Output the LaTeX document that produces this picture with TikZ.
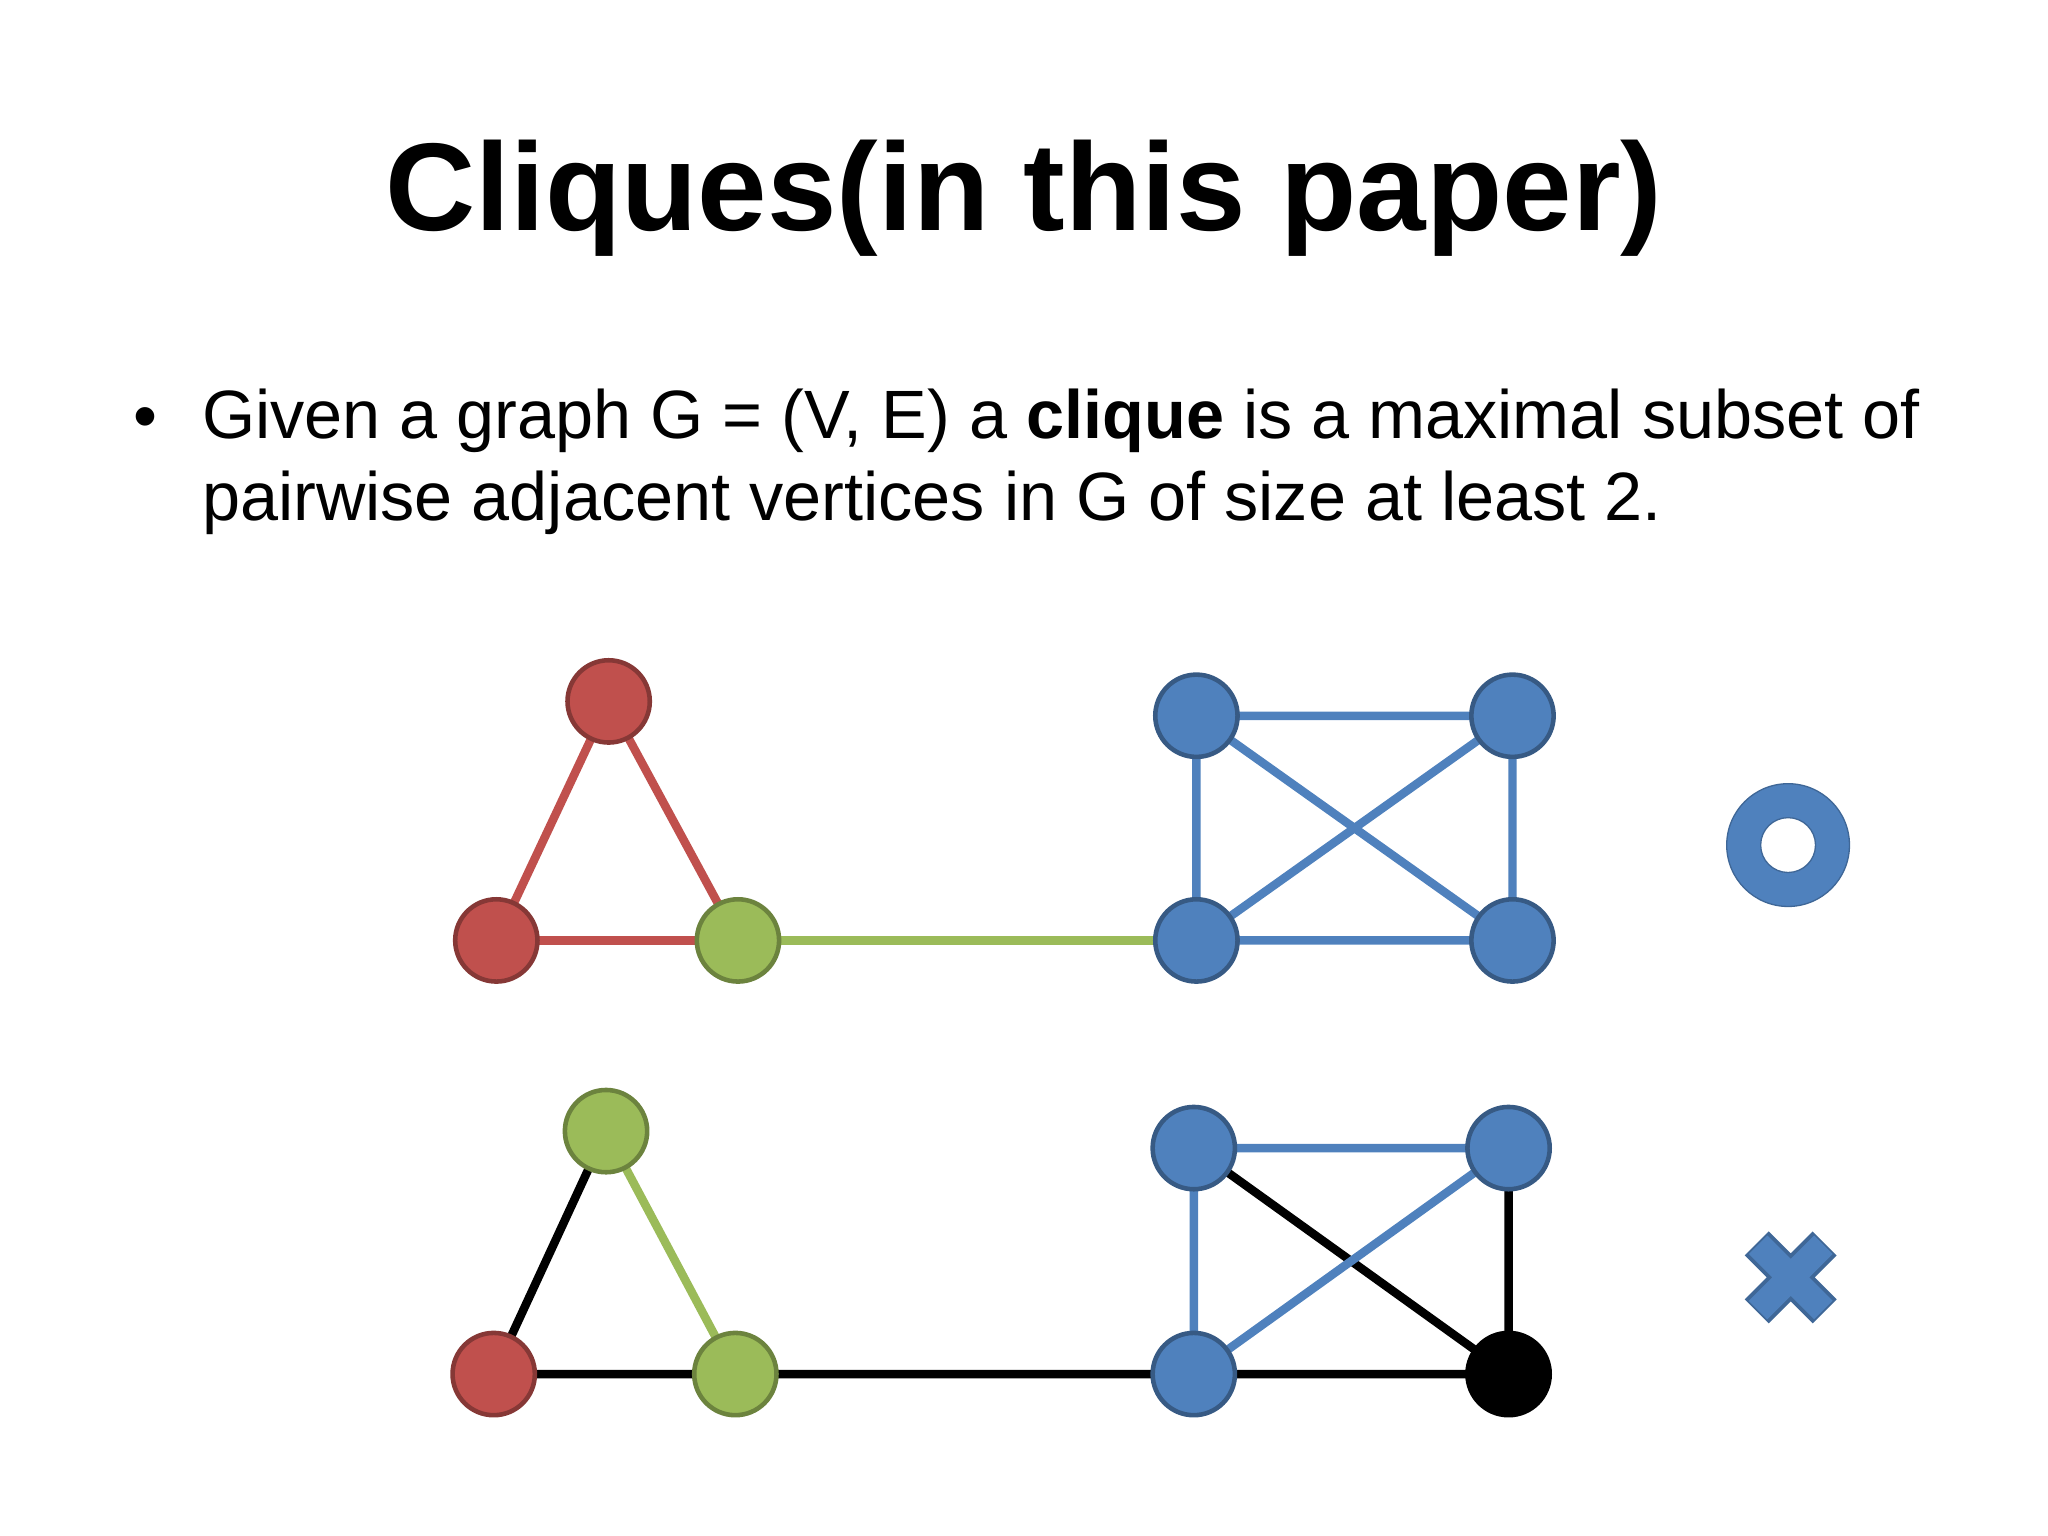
\documentclass[tikz,border=0pt]{standalone}
\usepackage{fontspec}
\setmainfont{Liberation Sans}
\usetikzlibrary{calc,backgrounds}
\definecolor{cred}{HTML}{C0504D}
\definecolor{cgreen}{HTML}{9BBB59}
\definecolor{cblue}{HTML}{4F81BD}
\begin{document}
\begin{tikzpicture}[x=0.1mm,y=-0.1mm,
  vtx/.style={circle,minimum size=6.3mm,inner sep=0pt,line width=0.35mm},
  rv/.style={vtx,fill=cred,draw=cred!70!black},
  gv/.style={vtx,fill=cgreen,draw=cgreen!70!black},
  bv/.style={vtx,fill=cblue,draw=cblue!70!black},
  kv/.style={vtx,fill=black,draw=black},
  ed/.style={line width=0.65mm}]
\useasboundingbox (0,0) rectangle (1568,1176);
\node[font=\fontsize{27.2}{32}\selectfont\bfseries] (title) at (784,152) {Cliques(in this paper)};
\node[anchor=west,font=\fontsize{14.9}{18}\selectfont] (bul) at (90,324) {•};
\node[anchor=north west,align=left,inner sep=0pt,font=\fontsize{14.9}{17.9}\selectfont] (txt) at (154,297) {Given a graph G = (V, E) a \textbf{clique} is a maximal subset of\\pairwise adjacent vertices in G of size at least 2.};
% top graph
\node[rv] (a) at (466,537) {};
\node[rv] (b) at (380,720) {};
\node[gv] (c) at (565,720) {};
\node[bv] (d) at (916,720) {};
\node[bv] (e) at (916,548) {};
\node[bv] (f) at (1158,548) {};
\node[bv] (g) at (1158,720) {};
\begin{scope}[on background layer]
\draw[ed,cred] (a.center) -- (b.center); \draw[ed,cred] (a.center) -- (c.center); \draw[ed,cred] (b.center) -- (c.center);
\draw[ed,cgreen] (c.center) -- (d.center);
\draw[ed,cblue] (d.center) -- (e.center) (d.center) -- (f.center) (d.center) -- (g.center) (e.center) -- (f.center) (e.center) -- (g.center) (f.center) -- (g.center);
\end{scope}
\node[circle,draw=cblue!80!black,line width=0.1mm,fill=cblue,minimum size=9.4mm,inner sep=0pt] (o) at (1369,647) {};
\node[circle,fill=white,draw=cblue!80!black,line width=0.1mm,minimum size=4.2mm,inner sep=0pt] (oi) at (o) {};
% bottom graph
\node[gv] (a2) at (464,866) {};
\node[rv] (b2) at (378,1052) {};
\node[gv] (c2) at (563,1052) {};
\node[bv] (d2) at (914,1052) {};
\node[bv] (e2) at (914,879) {};
\node[bv] (f2) at (1155,879) {};
\node[kv] (g2) at (1155,1052) {};
\begin{scope}[on background layer]
\draw[ed,black] (a2.center) -- (b2.center) (b2.center) -- (c2.center) (c2.center) -- (d2.center) (d2.center) -- (g2.center) (e2.center) -- (g2.center) (f2.center) -- (g2.center);
\draw[ed,cgreen] (a2.center) -- (c2.center);
\draw[ed,cblue] (d2.center) -- (e2.center) (d2.center) -- (f2.center) (e2.center) -- (f2.center);
\end{scope}
\coordinate (x) at (1371,978);
\draw[line width=2.6mm,cblue!80!black] ($(x)+(-26,-26)$) -- ($(x)+(26,26)$) ($(x)+(-26,26)$) -- ($(x)+(26,-26)$);
\draw[line width=2mm,cblue] ($(x)+(-25,-25)$) -- ($(x)+(25,25)$) ($(x)+(-25,25)$) -- ($(x)+(25,-25)$);
\end{tikzpicture}
\end{document}
